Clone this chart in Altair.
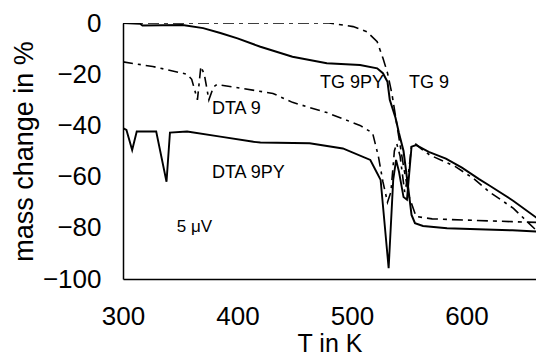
import altair as alt
import pandas as pd

# ---- data ----
TG9PY_T = [300, 315, 317, 352, 370, 385, 400, 420, 448, 478, 507, 522, 527, 531, 533, 538, 541, 545, 549, 552, 555, 562, 583, 610, 640, 668]
TG9PY_v = [0, -0.3, -1, -0.8, -2, -3.9, -6, -9.3, -13.2, -15.7, -16.4, -17.7, -19.6, -23, -30, -37, -43, -50, -64, -75, -78.2, -79.3, -80.2, -80.6, -81, -81.6]

TG9_T = [300, 400, 480, 501, 513, 522, 527, 531, 535, 540, 545, 550, 556, 570, 600, 640, 668]
TG9_v = [0, 0, 0, -1.4, -3.4, -7.3, -13.7, -19.5, -28, -42, -56, -68, -75.6, -76.5, -77, -77.6, -78]

DTA9_T = [300, 326, 356, 360, 365, 368, 371, 375, 379, 382, 396, 431, 448, 478, 507, 518, 523, 527, 531, 534, 537, 539, 542, 546, 549, 552, 555, 560, 568, 590, 606, 620, 641, 653, 668]
DTA9_v = [-15.2, -17, -20, -22, -30, -17, -20, -30, -25, -24, -25, -27.5, -31, -35, -40, -43, -52, -62, -70, -66, -50, -47, -52, -66, -60, -48, -47, -49, -51.6, -56, -60.7, -66, -72.4, -77.6, -84]

DTA9PY_T = [300, 303, 308, 312, 329, 338, 341, 356, 385, 414, 420, 463, 492, 516, 522, 525, 532, 536, 538.5, 541, 545, 548, 552, 556, 567, 582, 596, 611, 620, 641, 664, 668]
DTA9PY_v = [-41.1, -41.8, -49.6, -42.4, -42.4, -62, -42.8, -42.4, -44.4, -46.4, -46.7, -47, -49, -53.5, -58.7, -61.3, -95.8, -61.3, -53.5, -58, -68, -69, -48.3, -47.7, -50.3, -53, -56.5, -61, -63.5, -69.5, -77, -78]

LABEL_TEXT = ["TG 9PY", "TG 9", "DTA 9", "DTA 9PY", "5 \u03bcV"]
LABEL_T = [472, 549.8, 377.7, 377.7, 347]
LABEL_V = [-23.4, -23.4, -33.4, -58.4, -79.7]
LABEL_SIZE = [18, 18, 18, 18, 17]

X_TICKS = [300, 400, 500, 600]
Y_TICKS = [-100, -80, -60, -40, -20, 0]

FONT = "Liberation Sans"

xs = alt.Scale(domain=[300, 660.7], nice=False, zero=False)
ys = alt.Scale(domain=[-100, 0], nice=False, zero=False)

X_ENC = alt.X("T:Q", scale=xs, axis=alt.Axis(
    values=X_TICKS, title="T in K", titleFontSize=25, titleFontWeight="normal",
    titleFont=FONT, labelFont=FONT, labelFontSize=26, labelPadding=24,
    titlePadding=2, ticks=False, tickSize=0, grid=False, domainColor="black",
    domainWidth=1.5, labelColor="black", titleColor="black", labelFlush=False))
Y_ENC = alt.Y("v:Q", scale=ys, axis=alt.Axis(
    values=Y_TICKS, title="mass change in %", titleFontSize=27, titleFontWeight="normal",
    titleFont=FONT, labelFont=FONT, labelFontSize=26, labelPadding=22,
    titlePadding=4, ticks=False, tickSize=0, grid=False, domainColor="black",
    domainWidth=1.5, labelColor="black", titleColor="black", labelFlush=False))


def frame(name, T, v):
    return pd.DataFrame({"T": T, "v": v, "series": name, "i": list(range(len(T)))})


def line(df, dash, width):
    kw = dict(color="black", strokeWidth=width, clip=True)
    if dash:
        kw["strokeDash"] = dash
    return alt.Chart(df).mark_line(**kw).encode(x=X_ENC, y=Y_ENC, order="i:Q")


layers = [
    line(frame("TG 9PY", TG9PY_T, TG9PY_v), None, 2.0),
    line(frame("TG 9", TG9_T, TG9_v), [11, 5, 4, 5], 1.6),
    line(frame("DTA 9", DTA9_T, DTA9_v), [10, 5, 3, 5], 1.6),
    line(frame("DTA 9PY", DTA9PY_T, DTA9PY_v), None, 1.9),
]

labels = pd.DataFrame({"text": LABEL_TEXT, "T": LABEL_T, "v": LABEL_V, "size": LABEL_SIZE})
text = alt.Chart(labels).mark_text(align="left", baseline="middle", font=FONT, color="black").encode(
    x=X_ENC,
    y=Y_ENC,
    text="text:N",
    size=alt.Size("size:Q", scale=None, legend=None),
)

chart = alt.layer(*layers, text).properties(
    width=413, height=256,
    background="white",
    autosize=alt.AutoSizeParams(type="none"),
    padding={"left": 115, "top": 15, "right": 0, "bottom": 79},
).configure_view(stroke=None)

chart.save("out.html", embed_options={"renderer": "svg", "actions": False})
